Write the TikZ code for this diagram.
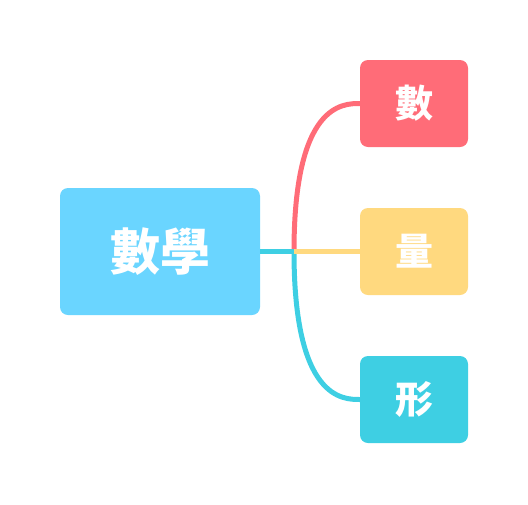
\documentclass[tikz,border=0pt]{standalone}
\usepackage{fontspec}
\newfontfamily\cjk{Noto Sans CJK TC}
\usetikzlibrary{positioning,calc}
\definecolor{rootcolor}{RGB}{106,213,255}
\definecolor{shucolor}{RGB}{255,108,120}
\definecolor{liangcolor}{RGB}{255,217,127}
\definecolor{xingcolor}{RGB}{62,207,227}
\tikzset{
  mmnode/.style = {rounded corners=8pt, text=white, inner sep=0pt, font=\cjk\bfseries},
  rootnode/.style = {mmnode, fill=rootcolor, minimum width=200pt, minimum height=127pt, font=\cjk\bfseries\fontsize{50}{50}\selectfont},
  leafnode/.style = {mmnode, minimum width=108pt, minimum height=87pt, font=\cjk\bfseries\fontsize{38}{38}\selectfont},
  branch/.style = {line width=5pt}
}
\begin{document}
\begin{tikzpicture}[x=1pt,y=-1pt]
\useasboundingbox (0,0) rectangle (528,504);

% --- root and leaves ---
\node[rootnode] (root) at (160,251.5) {數學};
\node[leafnode, fill=shucolor] (shu) at (414,103.5) {數};
\node[leafnode, fill=liangcolor] (liang) at (414,251.5) {量};
\node[leafnode, fill=xingcolor] (xing) at (414,399.5) {形};

% --- branch point ---
\coordinate (fork) at (294,251.5);

% --- connections ---
\draw[branch, shucolor] (fork) .. controls (fork |- shu.west) and ($(shu.west)+(-17,0)$) .. (shu.west);
\draw[branch, xingcolor] (fork) .. controls (fork |- xing.west) and ($(xing.west)+(-17,0)$) .. (xing.west);
\draw[branch, liangcolor] (fork) -- (liang.west);
\draw[branch, xingcolor] (root.east) -- (fork);

\end{tikzpicture}
\end{document}
